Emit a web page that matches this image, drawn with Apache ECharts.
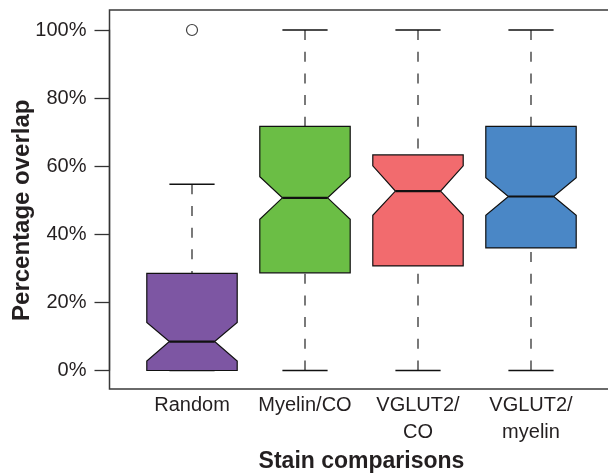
<!DOCTYPE html>
<html>
<head>
<meta charset="utf-8">
<script src="https://cdn.jsdelivr.net/npm/echarts@6/dist/echarts.min.js"></script>
<style>
html, body { margin: 0; padding: 0; background: #fff; }
#main { width: 608px; height: 474px; }
</style>
</head>
<body>
<div id="main"></div>
<script>
// stain comparison groups
const categories = ['Random', 'Myelin/CO', 'VGLUT2/\nCO', 'VGLUT2/\nmyelin']
// box stats, percent
const whiskerLow = [0, 0, 0, 0]
const q1 = [0, 28.7, 30.7, 36.0]
const median = [8.5, 50.7, 52.7, 51.1]
const q3 = [28.5, 71.7, 63.3, 71.7]
const whiskerHigh = [54.7, 100, 100, 100]
const notchLow = [2.8, 44.4, 45.6, 45.6]
const notchHigh = [14.1, 56.9, 60.1, 56.6]
// outliers: [category index, value]
const outliers = [[0, 100]]
const yTicks = [0, 20, 40, 60, 80, 100]

const boxColors = ['#7d56a3', '#6bbe45', '#f26b6e', '#4a87c6']
const font = "'Liberation Sans', Arial, Helvetica, sans-serif"
const textColor = '#231f20'

const boxData = categories.map((c, i) => [i, whiskerLow[i], q1[i], median[i], q3[i], whiskerHigh[i], notchLow[i], notchHigh[i]])

function renderBox(params, api) {
  const i = api.value(0)
  const band = api.size([1, 0])[0]
  const w = band * 0.4
  const cap = band * 0.2
  const c = api.coord([i, 0])[0]
  const y = v => api.coord([i, v])[1]
  const lo = y(api.value(1)), b1 = y(api.value(2)), md = y(api.value(3)),
    b3 = y(api.value(4)), hi = y(api.value(5)), nl = y(api.value(6)), nh = y(api.value(7))
  const pts = [
    [c - w, b1], [c - w, nl], [c - w / 2, md], [c - w, nh], [c - w, b3],
    [c + w, b3], [c + w, nh], [c + w / 2, md], [c + w, nl], [c + w, b1]
  ]
  const dash = { stroke: '#333', lineWidth: 1.3, lineDash: [10, 11.7] }
  const solid = { stroke: '#111', lineWidth: 1.3 }
  return {
    type: 'group',
    children: [
      // whiskers drawn from the end toward the box, like R
      { type: 'line', shape: { x1: c, y1: hi, x2: c, y2: b3 }, style: dash },
      { type: 'line', shape: { x1: c, y1: lo, x2: c, y2: b1 }, style: dash },
      { type: 'line', shape: { x1: c - cap, y1: hi, x2: c + cap, y2: hi }, style: solid },
      { type: 'line', shape: { x1: c - cap, y1: lo, x2: c + cap, y2: lo }, style: solid },
      {
        type: 'polygon',
        shape: { points: pts },
        style: { fill: boxColors[i], stroke: '#111', lineWidth: 1.2 }
      },
      { type: 'line', shape: { x1: c - w / 2, y1: md, x2: c + w / 2, y2: md }, style: { stroke: '#111', lineWidth: 2.2 } }
    ]
  }
}

const chart = echarts.init(document.getElementById('main'))
chart.setOption({
  animation: false,
  grid: [
    // frame
    { left: 109.5, right: -3, top: 10, bottom: 85, show: true, borderColor: '#3a3a3a', borderWidth: 1.5, backgroundColor: 'transparent', outerBoundsMode: 'none' },
    // y axis
    { left: 109.5, right: 1, top: 30, bottom: 103.5, outerBoundsMode: 'none' },
    // boxes
    { left: 135.5, right: 20.5, top: 30, bottom: 103.5, outerBoundsMode: 'none' }
  ],
  xAxis: [
    { gridIndex: 0, type: 'value', show: false, min: 0, max: 1 },
    { gridIndex: 1, type: 'value', show: false, min: 0, max: 1 },
    {
      gridIndex: 2,
      type: 'category',
      data: categories,
      axisLine: { show: false },
      axisTick: { show: false },
      axisLabel: { interval: 0, color: textColor, fontSize: 20, fontFamily: font, lineHeight: 27, margin: 21 },
      name: 'Stain comparisons',
      nameLocation: 'middle',
      nameGap: 80,
      nameMoveOverlap: false,
      nameTextStyle: { color: textColor, fontSize: 23, fontWeight: 'bold', fontFamily: font }
    }
  ],
  yAxis: [
    { gridIndex: 0, type: 'value', show: false, min: 0, max: 1 },
    {
      gridIndex: 1,
      type: 'value',
      min: yTicks[0],
      max: yTicks[yTicks.length - 1],
      interval: 20,
      splitLine: { show: false },
      axisLine: { show: true, lineStyle: { color: '#333', width: 1.3 } },
      axisTick: { show: true, length: 15, lineStyle: { color: '#333', width: 1.3 } },
      axisLabel: { formatter: '{value}%', color: textColor, fontSize: 20, fontFamily: font, margin: 23 },
      name: 'Percentage overlap',
      nameLocation: 'middle',
      nameGap: 75,
      nameMoveOverlap: false,
      nameTextStyle: { color: textColor, fontSize: 24, fontWeight: 'bold', fontFamily: font, padding: [0, 20, 0, 0] }
    },
    { gridIndex: 2, type: 'value', show: false, min: 0, max: 100 }
  ],
  series: [
    {
      type: 'custom',
      xAxisIndex: 2,
      yAxisIndex: 2,
      clip: false,
      renderItem: renderBox,
      encode: { x: 0, y: [1, 2, 3, 4, 5, 6, 7] },
      data: boxData
    },
    {
      type: 'scatter',
      xAxisIndex: 2,
      yAxisIndex: 2,
      symbol: 'circle',
      symbolSize: 11,
      itemStyle: { color: '#fff', borderColor: '#111', borderWidth: 1.2 },
      data: outliers
    }
  ]
})
</script>
</body>
</html>
